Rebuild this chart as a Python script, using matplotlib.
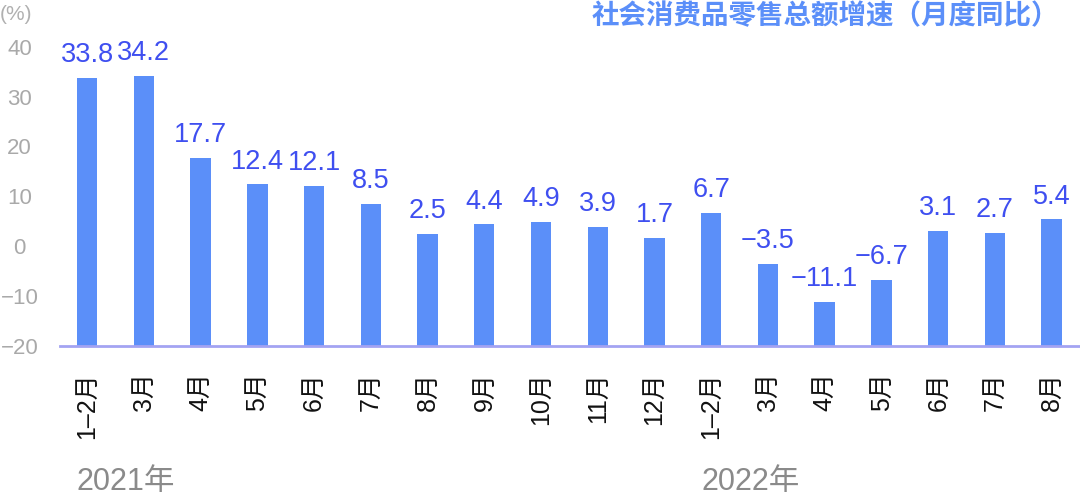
import matplotlib
matplotlib.use("Agg")
import matplotlib.pyplot as plt
from matplotlib.ticker import FixedLocator

months = ["1–2月", "3月", "4月", "5月", "6月", "7月", "8月", "9月", "10月", "11月", "12月",
          "1–2月", "3月", "4月", "5月", "6月", "7月", "8月"]
values = [33.8, 34.2, 17.7, 12.4, 12.1, 8.5, 2.5, 4.4, 4.9, 3.9, 1.7,
          6.7, -3.5, -11.1, -6.7, 3.1, 2.7, 5.4]
labels = ["33.8", "34.2", "17.7", "12.4", "12.1", "8.5", "2.5", "4.4", "4.9", "3.9", "1.7",
          "6.7", "−3.5", "−11.1", "−6.7", "3.1", "2.7", "5.4"]
yticks = [-20, -10, 0, 10, 20, 30, 40]
ytick_labels = ["−20", "−10", "0", "10", "20", "30", "40"]
years = ["2021年", "2022年"]
year_start_idx = [0, 11]
title = "社会消费品零售总额增速（月度同比）"

FONTS = ["Liberation Sans", "Noto Sans CJK SC", "DejaVu Sans"]
plt.rcParams['font.family'] = FONTS

fig = plt.figure(figsize=(10.8, 4.99), dpi=100)
ax = fig.add_axes([0.056, 0.3066, 0.944, 0.600])

n = len(values)
x = list(range(n))
base = -20
bw = 0.36
ax.bar(x, [v - base for v in values], bottom=base, width=bw, color="#5b8ff9", zorder=2)

for xi, v, lab in zip(x, values, labels):
    ax.annotate(lab, (xi, v), xytext=(0, 7), textcoords="offset points",
                ha="center", va="bottom", fontsize=19.5, color="#3f4ff0")

ax.set_xlim(-0.47, n - 0.5)
ax.set_ylim(-20, 40)
ax.yaxis.set_major_locator(FixedLocator(yticks))
ax.set_yticklabels(ytick_labels, fontsize=16, color="#a9a9a9", ha="center")
ax.tick_params(axis="y", length=0, pad=29.5)
ax.set_xticks(x)
ax.set_xticklabels(months, rotation=90, fontsize=18, color="#111111", va="top")
ax.tick_params(axis="x", length=0, pad=19)
for s in ["top", "right", "left"]:
    ax.spines[s].set_visible(False)
ax.spines["bottom"].set_color("#a3a3f2")
ax.spines["bottom"].set_linewidth(2)
ax.spines["bottom"].set_zorder(3)

# year labels
for yr, idx in zip(years, year_start_idx):
    ax.text(idx - bw / 2, -0.405, yr, transform=ax.get_xaxis_transform(), fontsize=22,
            color="#8a8a8a", ha="left", va="top")

fig.text(0.0, 0.99, "(%)", fontsize=15, color="#b0b0b0", ha="left", va="top")
fig.text(0.981, 0.996, title, fontsize=19.8, fontweight="bold", color="#5b8ff9",
         ha="right", va="top", family=["Noto Sans CJK SC", "DejaVu Sans"])

fig.savefig("out.png", dpi=100)
